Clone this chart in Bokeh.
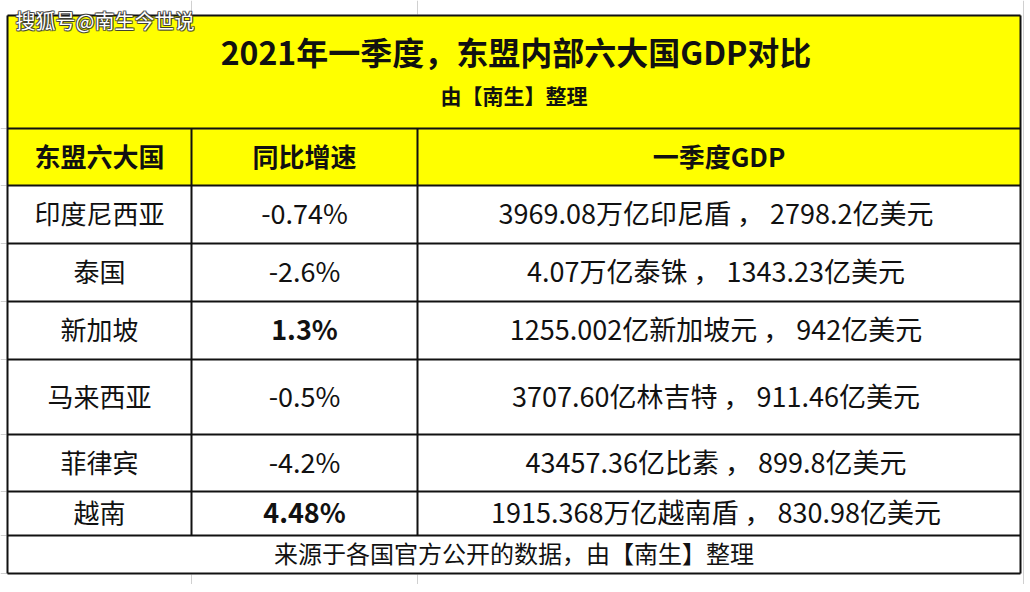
from bokeh.plotting import figure
from bokeh.models import Range1d, ColumnDataSource
from bokeh.core.properties import value
from bokeh.embed import file_html
from bokeh.resources import INLINE

# ---------------- data ----------------
title = "2021年一季度，东盟内部六大国GDP对比"
subtitle = "由【南生】整理"
headers = ["东盟六大国", "同比增速", "一季度GDP"]
countries = ["印度尼西亚", "泰国", "新加坡", "马来西亚", "菲律宾", "越南"]
growth = [-0.74, -2.6, 1.3, -0.5, -4.2, 4.48]
gdp_local = ["3969.08万亿印尼盾", "4.07万亿泰铢", "1255.002亿新加坡元",
             "3707.60亿林吉特", "43457.36亿比素", "1915.368万亿越南盾"]
gdp_usd = ["2798.2亿美元", "1343.23亿美元", "942亿美元",
           "911.46亿美元", "899.8亿美元", "830.98亿美元"]
footer = "来源于各国官方公开的数据，由【南生】整理"
watermark = "搜狐号@南生今世说"

# ---------------- layout (page pixel coordinates) ----------------
FONT = value("Noto Sans CJK SC")
X_LEFT, X_RIGHT = 7, 1020
COL_EDGES = [X_LEFT, 191, 417, X_RIGHT]
TITLE_TOP, HEADER_TOP, BODY_TOP = 15, 128, 185
ROW_EDGES = [185, 243, 301, 359, 434, 491, 535]
FOOT_BOTTOM = 573
DY = -2  # optical correction for middle baseline

p = figure(width=1024, height=584, output_backend="svg", toolbar_location=None,
           x_range=Range1d(0, 1024), y_range=Range1d(584, 0),
           min_border=0, background_fill_color="white", border_fill_color="white")
p.outline_line_color = None
p.axis.visible = False
p.grid.visible = False

# excel-like faint gridlines outside the table
p.segment(x0=[191, 417, 191, 417, 1023], y0=[0, 0, 574, 574, 0],
          x1=[191, 417, 191, 417, 1023], y1=[14, 14, 584, 584, 584],
          line_color="#d0d0d0", line_width=1)
p.segment(x0=[0] * 9, x1=[6] * 9,
          y0=[128, 185, 243, 301, 359, 434, 491, 535, 573],
          y1=[128, 185, 243, 301, 359, 434, 491, 535, 573],
          line_color="#d0d0d0", line_width=1)

# yellow title + header backgrounds
p.quad(left=[X_LEFT, X_LEFT], right=[X_RIGHT, X_RIGHT], top=[TITLE_TOP, HEADER_TOP],
       bottom=[HEADER_TOP, BODY_TOP], fill_color="#FFFF00", line_color=None)

# horizontal rules
hy = [TITLE_TOP, HEADER_TOP] + ROW_EDGES + [FOOT_BOTTOM]
p.segment(x0=[X_LEFT] * len(hy), x1=[X_RIGHT] * len(hy), y0=hy, y1=hy,
          line_color="#111111", line_width=2)
# outer verticals
p.segment(x0=[X_LEFT, X_RIGHT], x1=[X_LEFT, X_RIGHT], y0=[TITLE_TOP] * 2,
          y1=[FOOT_BOTTOM] * 2, line_color="#111111", line_width=2)
# column separators (header + body)
p.segment(x0=COL_EDGES[1:3], x1=COL_EDGES[1:3], y0=[HEADER_TOP] * 2,
          y1=[ROW_EDGES[-1]] * 2, line_color="#111111", line_width=2)

cx = [(COL_EDGES[i] + COL_EDGES[i + 1]) / 2 for i in range(3)]
mid_x = (X_LEFT + X_RIGHT) / 2

# title
p.text(x=[mid_x + 2], y=[50], text=[title], text_font=FONT, text_font_style="bold",
       text_font_size="32px", text_align="center", text_baseline="middle",
       text_color="#111111")
p.text(x=[mid_x], y=[94], text=[subtitle], text_font=FONT, text_font_style="bold",
       text_font_size="21px", text_align="center", text_baseline="middle",
       text_color="#111111")

# header
hc = (HEADER_TOP + BODY_TOP) / 2 + DY
p.text(x=cx, y=[hc] * 3, text=headers, text_font=FONT, text_font_style="bold",
       text_font_size="26px", text_align="center", text_baseline="middle",
       text_color="#111111")

# body
ry = [(ROW_EDGES[i] + ROW_EDGES[i + 1]) / 2 + DY for i in range(len(countries))]
p.text(x=[cx[0]] * len(countries), y=ry, text=countries, text_font=FONT,
       text_font_size="26px", text_align="center", text_baseline="middle",
       text_color="#111111")

gsrc = ColumnDataSource(dict(
    x=[cx[1]] * len(growth), y=ry,
    t=[f"{g}%" for g in growth],
    style=["bold" if g > 0 else "normal" for g in growth]))
p.text(x="x", y="y", text="t", source=gsrc, text_font=FONT,
       text_font_style="style", text_font_size="27px", text_align="center",
       text_baseline="middle", text_color="#111111")

gdp_text = [f"{a} ，  {b}" for a, b in zip(gdp_local, gdp_usd)]
p.text(x=[cx[2]] * len(gdp_text), y=ry, text=gdp_text, text_font=FONT,
       text_font_size="27px", text_align="center", text_baseline="middle",
       text_color="#111111")

# footer
p.text(x=[mid_x], y=[(ROW_EDGES[-1] + FOOT_BOTTOM) / 2 + DY], text=[footer], text_font=FONT,
       text_font_size="24px", text_align="center", text_baseline="middle",
       text_color="#111111")

# watermark with dark outline
for dx, dy in [(-1, 0), (1, 0), (0, -1), (0, 1), (1, 1), (-1, 1), (1, -1), (-1, -1)]:
    p.text(x=[15 + dx], y=[20 + dy], text=[watermark], text_font=FONT,
           text_font_size="20px", text_align="left", text_baseline="middle",
           text_color="#333333", text_alpha=0.6)
p.text(x=[15], y=[20], text=[watermark], text_font=FONT,
       text_font_size="20px", text_align="left", text_baseline="middle",
       text_color="white")

open("out.html", "w").write(file_html(p, INLINE))
